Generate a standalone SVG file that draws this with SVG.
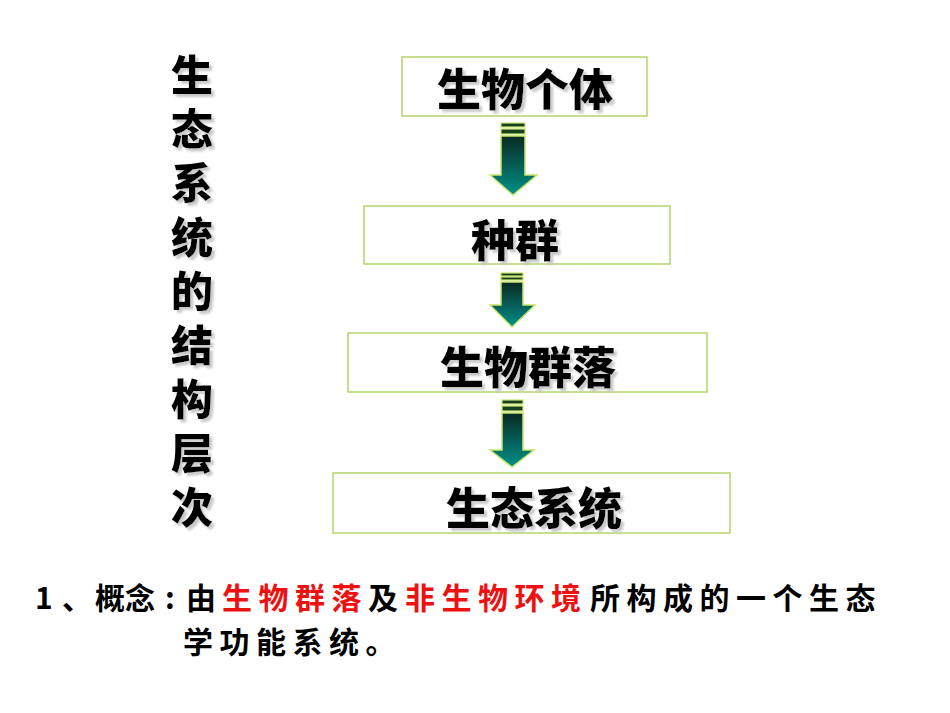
<svg xmlns="http://www.w3.org/2000/svg" width="950" height="713" viewBox="0 0 950 713">
<style>
.box{fill:#fff;stroke:#b4d46a;stroke-width:1.5}
.t{font-family:"Noto Sans CJK SC","Noto Sans",sans-serif;font-weight:900;font-size:44px;text-anchor:middle;fill:#000;filter:url(#sh)}
.v{font-family:"Noto Sans CJK SC","Noto Sans",sans-serif;font-weight:900;font-size:42px;fill:#000;filter:url(#sh)}
.arr{fill:url(#g);stroke:#c8e66a;stroke-width:1.5}
.bar{fill:#173f22;stroke:#c8e66a;stroke-width:1.2}
.b{font-family:"Noto Sans CJK SC","Noto Sans",sans-serif;font-size:30px;font-weight:700;fill:#000}
.r{fill:#ee1111}
</style>
<defs>
<linearGradient id="g" x1="0" y1="0" x2="0" y2="1">
<stop offset="0" stop-color="#0a2a22"/>
<stop offset="1" stop-color="#00918a"/>
</linearGradient>
<filter id="sh" x="-10%" y="-10%" width="130%" height="130%">
<feOffset in="SourceAlpha" dx="3" dy="3" result="o"/>
<feGaussianBlur in="o" stdDeviation="0.8" result="b"/>
<feColorMatrix in="b" type="matrix" values="0 0 0 0 0.55 0 0 0 0 0.55 0 0 0 0 0.55 0 0 0 0.9 0" result="c"/>
<feMerge><feMergeNode in="c"/><feMergeNode in="SourceGraphic"/></feMerge>
</filter>
</defs>
<g id="title">
<text class="v" x="192" y="54" writing-mode="vertical-rl" letter-spacing="12">生态系统的结构层次</text>
</g>
<g id="n1">
<rect class="box" x="402" y="57" width="245" height="59"/>
<text class="t" x="525" y="106">生物个体</text>
</g>
<g id="n2">
<rect class="box" x="364" y="206" width="306" height="58"/>
<text class="t" x="515" y="257">种群</text>
</g>
<g id="n3">
<rect class="box" x="348" y="333" width="359" height="59"/>
<text class="t" x="528" y="384">生物群落</text>
</g>
<g id="n4">
<rect class="box" x="333" y="473" width="397" height="60"/>
<text class="t" x="534" y="525">生态系统</text>
</g>
<g id="connectors">
<rect class="bar" x="501" y="123" width="24" height="4"/>
<rect class="bar" x="501" y="129" width="24" height="5"/>
<path class="arr" d="M501 136H525V175H537L513 195L490 175H501Z"/>
<rect class="bar" x="501" y="273" width="22" height="3"/>
<rect class="bar" x="501" y="277" width="22" height="3"/>
<path class="arr" d="M501 282H523V305H535L512 327L490 305H501Z"/>
<rect class="bar" x="502" y="400" width="21" height="4"/>
<rect class="bar" x="502" y="406" width="21" height="5"/>
<path class="arr" d="M502 413H523V450H534L512 467L490 450H502Z"/>
</g>
<g id="caption">
<text class="b" y="609"><tspan x="35">1</tspan><tspan x="62">、</tspan><tspan x="95">概念</tspan><tspan x="165">:</tspan><tspan x="186">由</tspan><tspan class="r" x="222" letter-spacing="6.5">生物群落</tspan><tspan x="368">及</tspan><tspan class="r" x="405" letter-spacing="6.5">非生物环境</tspan><tspan x="590" letter-spacing="6.5">所构成的一个生态</tspan></text>
<text class="b" x="183" y="653" letter-spacing="6.5">学功能系统。</text>
</g>
</svg>
